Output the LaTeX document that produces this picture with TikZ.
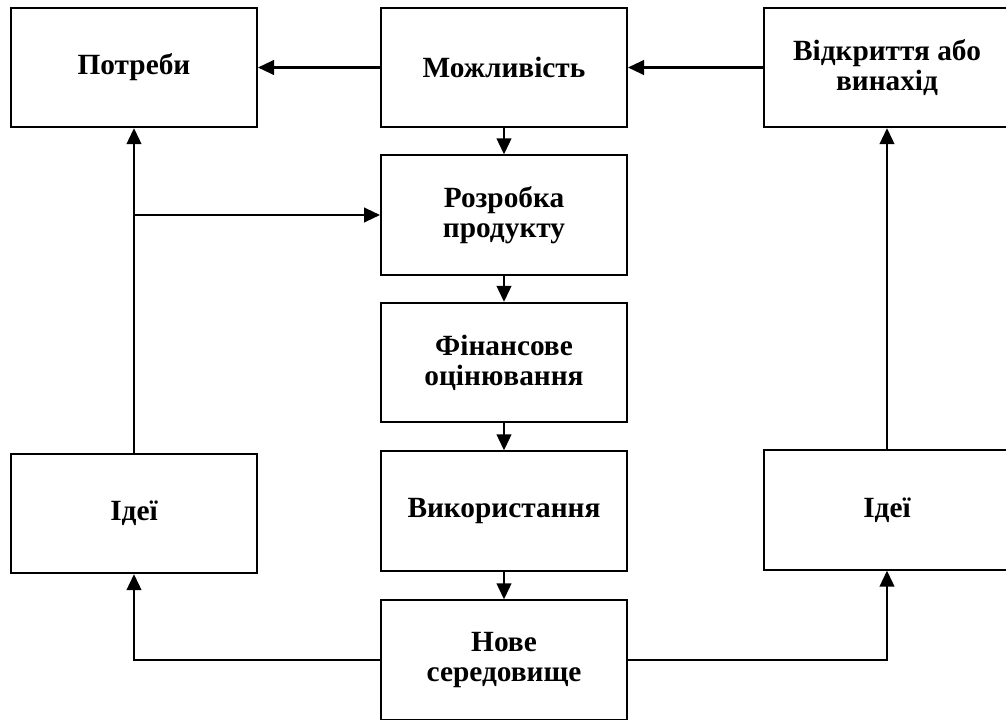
\documentclass[tikz,border=0pt]{standalone}
\usepackage{fontspec}
\setmainfont{Liberation Serif}
\usetikzlibrary{arrows.meta}

\begin{document}
\begin{tikzpicture}[
	x=0.75pt, y=-0.75pt,
	block/.style={draw, line width=1.5pt, minimum width=184.5pt, minimum height=89.5pt,
		align=center, inner sep=2pt, font=\fontsize{22}{22.5}\selectfont\bfseries},
	flow/.style={line width=1.6pt, -{Triangle[length=12pt,width=11pt]}}
]
\path[use as bounding box, clip] (0,0) rectangle (1006,720);
%% Draw blocks
\node[block] (1) at (134,67.5) {Потреби};
\node[block] (2) at (504,67.5) {Можливість};
\node[block] (3) at (887,67.5) {Відкриття або\\винахід};
\node[block] (4) at (504,215) {Розробка\\продукту};
\node[block] (5) at (504,362.5) {Фінансове\\оцінювання};
\node[block] (6) at (504,511) {Використання};
\node[block] (7) at (504,660) {Нове\\середовище};
\node[block] (8) at (134,513.5) {Ідеї};
\node[block] (9) at (887,510) {Ідеї};
\coordinate (b) at (8.north |- 4.west);

%% Draw edges
\draw[flow] (2) -- (1);
\draw[flow] (3) -- (2);
\draw[flow] (2) -- (4);
\draw[flow] (4) -- (5);
\draw[flow] (5) -- (6);
\draw[flow] (6) -- (7);
\draw[flow] (8) -- (1);
\draw[flow] (b) -- (4.west);
\draw[flow] (7.west) -| (8.south);
\draw[flow] (7.east) -| (9.south);
\draw[flow] (9) -- (3);

\end{tikzpicture}
\end{document}
